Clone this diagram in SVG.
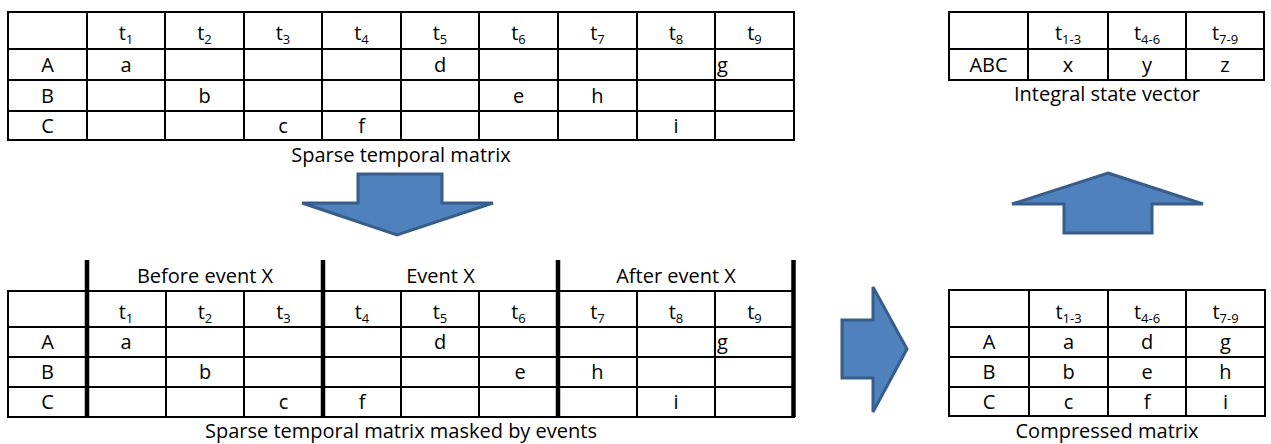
<svg xmlns="http://www.w3.org/2000/svg" width="1271" height="444" viewBox="0 0 1271 444">
<style>
text{font-family:"Open Sans","Noto Sans","Liberation Sans",sans-serif;font-size:20px;fill:#000}
.c{text-anchor:middle}
.s{text-anchor:start}
.sub{font-size:13px}
.grid{fill:none;stroke:#000;stroke-width:2}
.thick{stroke:#000;stroke-width:4.5}
.arrow{fill:#4F81BD;stroke:#385D8A;stroke-width:3;stroke-linejoin:miter}
</style>
<rect width="1271" height="444" fill="#fff"/>

<g id="sparse-matrix">
<rect class="grid" x="8" y="12" width="786" height="128"/>
<path class="grid" d="M8 49H794M8 80H794M8 111H794M87 12V140M165 12V140M244 12V140M322 12V140M401 12V140M479 12V140M558 12V140M637 12V140M715 12V140"/>
<text class="c" x="126" y="40">t<tspan class="sub" dy="4">1</tspan></text>
<text class="c" x="204.5" y="40">t<tspan class="sub" dy="4">2</tspan></text>
<text class="c" x="283" y="40">t<tspan class="sub" dy="4">3</tspan></text>
<text class="c" x="361.5" y="40">t<tspan class="sub" dy="4">4</tspan></text>
<text class="c" x="440" y="40">t<tspan class="sub" dy="4">5</tspan></text>
<text class="c" x="518.5" y="40">t<tspan class="sub" dy="4">6</tspan></text>
<text class="c" x="597.5" y="40">t<tspan class="sub" dy="4">7</tspan></text>
<text class="c" x="676" y="40">t<tspan class="sub" dy="4">8</tspan></text>
<text class="c" x="754.5" y="40">t<tspan class="sub" dy="4">9</tspan></text>
<text class="c" x="47.5" y="72">A</text>
<text class="c" x="47.5" y="103">B</text>
<text class="c" x="47.5" y="133">C</text>
<text class="c" x="126" y="72">a</text>
<text class="c" x="440" y="72">d</text>
<text class="s" x="717" y="72">g</text>
<text class="c" x="204.5" y="103">b</text>
<text class="c" x="518.5" y="103">e</text>
<text class="c" x="597.5" y="103">h</text>
<text class="c" x="283" y="133">c</text>
<text class="c" x="361.5" y="133">f</text>
<text class="c" x="676" y="133">i</text>
<text class="c" x="401" y="162">Sparse temporal matrix</text>
</g>

<g id="integral-state-vector">
<rect class="grid" x="949" y="12" width="315" height="68"/>
<path class="grid" d="M949 49H1264M1028 12V80M1108 12V80M1186 12V80"/>
<text class="c" x="1068" y="40">t<tspan class="sub" dy="4">1-3</tspan></text>
<text class="c" x="1147" y="40">t<tspan class="sub" dy="4">4-6</tspan></text>
<text class="c" x="1225" y="40">t<tspan class="sub" dy="4">7-9</tspan></text>
<text class="c" x="988.5" y="72">ABC</text>
<text class="c" x="1068" y="72">x</text>
<text class="c" x="1147" y="72">y</text>
<text class="c" x="1225" y="72">z</text>
<text class="c" x="1107" y="101">Integral state vector</text>
</g>

<g id="masked-matrix">
<rect class="grid" x="8" y="291" width="786" height="126"/>
<path class="grid" d="M8 327H794M8 357H794M8 387H794M166 291V417M244 291V417M401 291V417M479 291V417M637 291V417M715 291V417"/>
<path class="thick" d="M87 260V417M323 260V417M558 260V417M793.5 260V417"/>
<text class="c" x="205" y="283">Before event X</text>
<text class="c" x="440.5" y="283">Event X</text>
<text class="c" x="676" y="283">After event X</text>
<text class="c" x="126" y="319">t<tspan class="sub" dy="4">1</tspan></text>
<text class="c" x="205" y="319">t<tspan class="sub" dy="4">2</tspan></text>
<text class="c" x="283.5" y="319">t<tspan class="sub" dy="4">3</tspan></text>
<text class="c" x="362" y="319">t<tspan class="sub" dy="4">4</tspan></text>
<text class="c" x="440" y="319">t<tspan class="sub" dy="4">5</tspan></text>
<text class="c" x="518.5" y="319">t<tspan class="sub" dy="4">6</tspan></text>
<text class="c" x="597.5" y="319">t<tspan class="sub" dy="4">7</tspan></text>
<text class="c" x="676" y="319">t<tspan class="sub" dy="4">8</tspan></text>
<text class="c" x="754.5" y="319">t<tspan class="sub" dy="4">9</tspan></text>
<text class="c" x="47.5" y="349">A</text>
<text class="c" x="47.5" y="379">B</text>
<text class="c" x="47.5" y="409">C</text>
<text class="c" x="126" y="349">a</text>
<text class="c" x="440" y="349">d</text>
<text class="s" x="717" y="349">g</text>
<text class="c" x="205" y="379">b</text>
<text class="c" x="520" y="379">e</text>
<text class="c" x="597.5" y="379">h</text>
<text class="c" x="283.5" y="409">c</text>
<text class="c" x="362" y="409">f</text>
<text class="c" x="676" y="409">i</text>
<text class="c" x="401" y="438">Sparse temporal matrix masked by events</text>
</g>

<g id="compressed-matrix">
<rect class="grid" x="949" y="290" width="316" height="126"/>
<path class="grid" d="M949 327H1265M949 357H1265M949 387H1265M1029 290V416M1108 290V416M1186 290V416"/>
<text class="c" x="1068.5" y="319">t<tspan class="sub" dy="4">1-3</tspan></text>
<text class="c" x="1147" y="319">t<tspan class="sub" dy="4">4-6</tspan></text>
<text class="c" x="1225.5" y="319">t<tspan class="sub" dy="4">7-9</tspan></text>
<text class="c" x="989" y="349">A</text>
<text class="c" x="989" y="379">B</text>
<text class="c" x="989" y="409">C</text>
<text class="c" x="1068.5" y="349">a</text>
<text class="c" x="1147" y="349">d</text>
<text class="c" x="1225.5" y="349">g</text>
<text class="c" x="1068.5" y="379">b</text>
<text class="c" x="1147" y="379">e</text>
<text class="c" x="1225.5" y="379">h</text>
<text class="c" x="1068.5" y="409">c</text>
<text class="c" x="1147" y="409">f</text>
<text class="c" x="1225.5" y="409">i</text>
<text class="c" x="1107" y="438">Compressed matrix</text>
</g>

<g id="connectors">
<polygon class="arrow" points="358,174 442,174 442,203 493,203 397,235 302,203 358,203"/>
<polygon class="arrow" points="842,320 873,320 873,287 907,349 873,412 873,378 842,378"/>
<polygon class="arrow" points="1108,173 1203,204 1152,204 1152,233 1064,233 1064,204 1012,204"/>
</g>
</svg>
